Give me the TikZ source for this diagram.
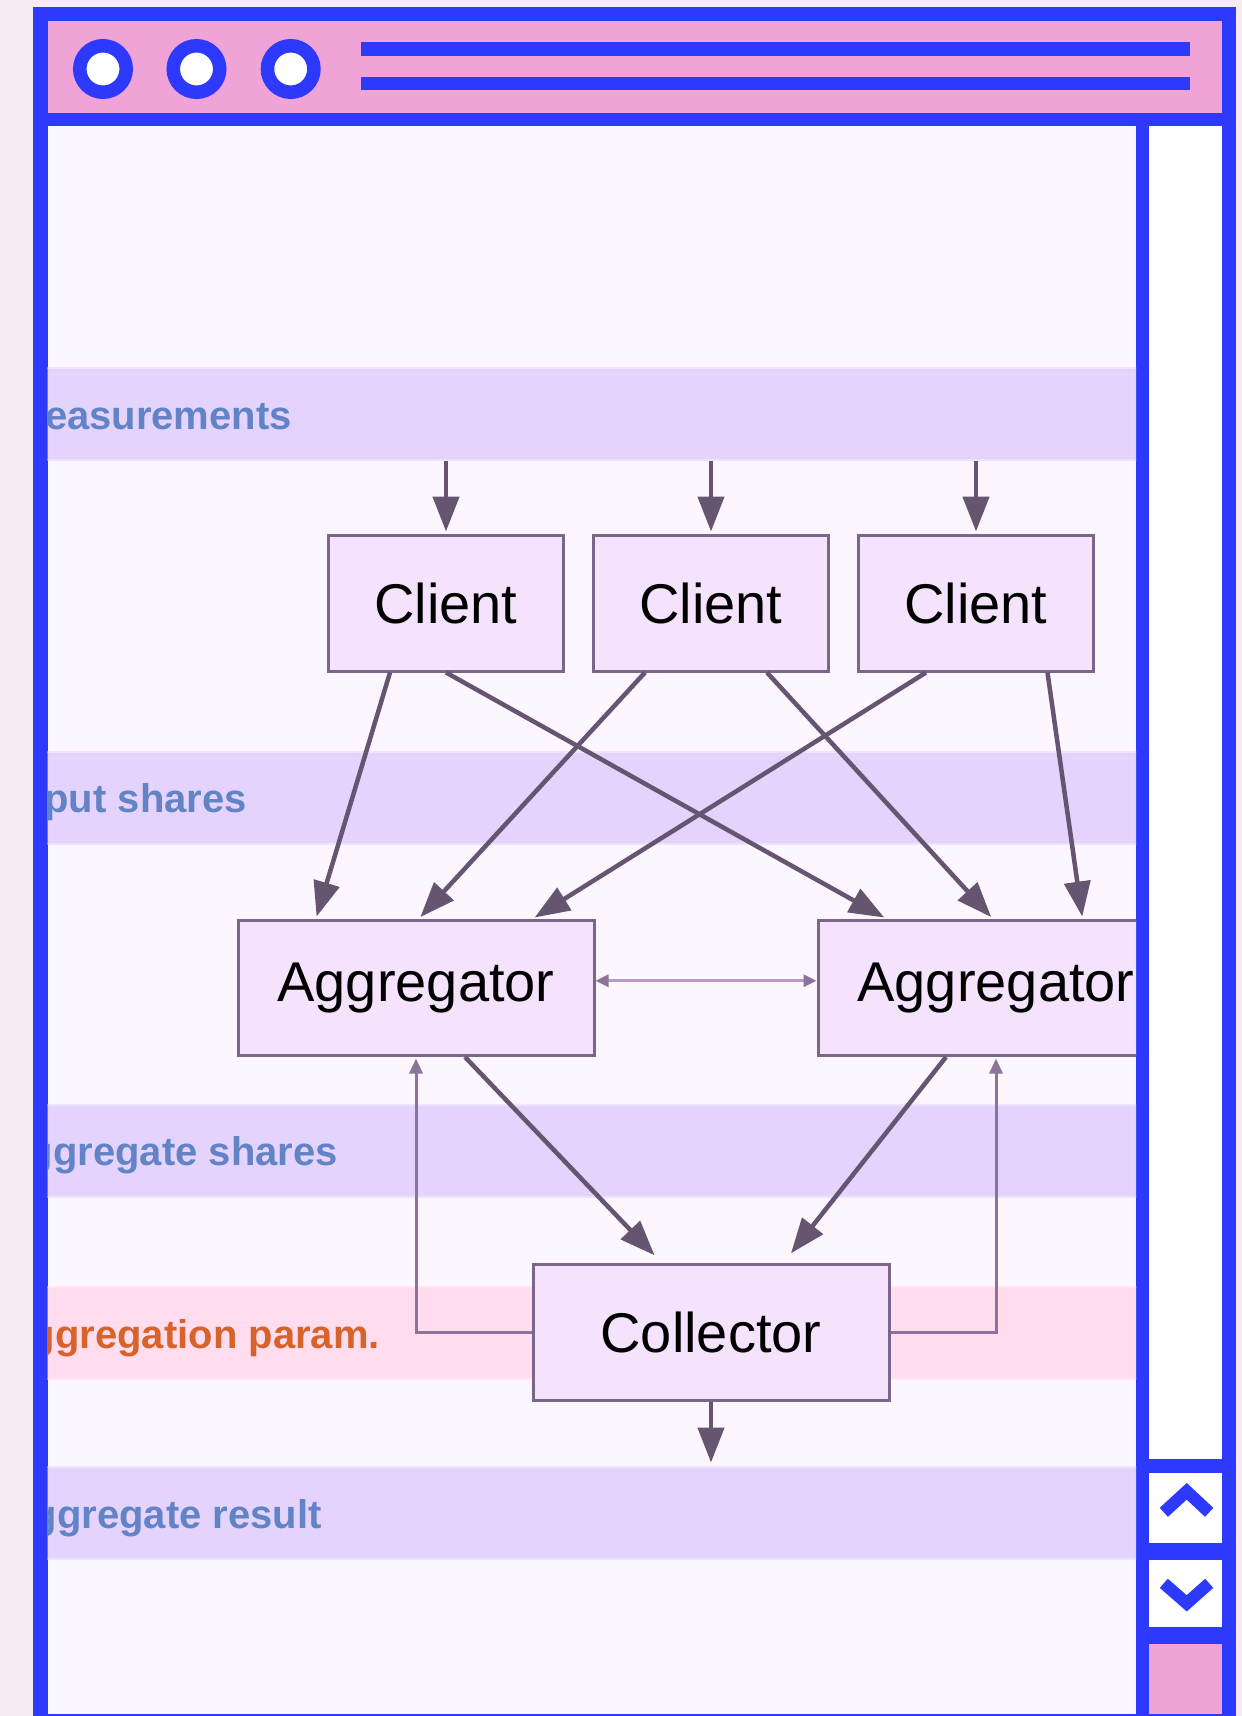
\documentclass[tikz,border=0pt]{standalone}
\usepackage{fontspec}
\setmainfont{Liberation Sans}
\usepackage{xcolor}
\usetikzlibrary{arrows.meta,positioning}
\definecolor{pagebg}{HTML}{F7EAF3}
\definecolor{winblue}{HTML}{2D3AFE}
\definecolor{titlepink}{HTML}{F0A3D6}
\definecolor{paper}{HTML}{FCF6FE}
\definecolor{bandfill}{HTML}{E3D3FD}
\definecolor{bandedge}{HTML}{EEE2FD}
\definecolor{parampink}{HTML}{FFDDEE}
\definecolor{paramedge}{HTML}{FFE6F2}
\definecolor{boxfill}{HTML}{F5E3FE}
\definecolor{boxline}{HTML}{7A6689}
\definecolor{arrowc}{HTML}{665571}
\definecolor{loopc}{HTML}{8B7499}
\definecolor{pairc}{HTML}{B99BCB}
\definecolor{tagblue}{HTML}{6283C6}
\definecolor{tagorange}{HTML}{D8632A}

\begin{document}
\begin{tikzpicture}[x=1pt, y=-1pt, node distance=27pt,
  box/.style={draw=boxline, fill=boxfill, line width=3pt, minimum width=235pt, minimum height=136pt, inner sep=0pt, font=\fontsize{56}{60}\selectfont},
  wide/.style={box, minimum width=356pt, minimum height=135.5pt},
  band/.style={fill=bandfill, draw=bandedge, line width=2pt, minimum width=1100pt, minimum height=92pt, inner sep=0pt, anchor=west},
  tag/.style={anchor=base east, inner sep=0pt, text=tagblue, font=\bfseries\fontsize{40}{44}\selectfont},
  dot/.style={circle, draw=winblue, fill=white, line width=13.5pt, minimum size=46.5pt, inner sep=0pt},
  arr/.style={-{Triangle[length=35pt, width=26pt]}, line width=4.5pt, draw=arrowc},
  back/.style={-{Triangle[length=15pt, width=13pt]}, line width=3pt, draw=loopc},
  pair/.style={{Triangle[length=13pt, width=12pt, color=loopc]}-{Triangle[length=13pt, width=12pt, color=loopc]}, line width=3pt, draw=pairc}]
  \useasboundingbox (0,0) rectangle (1242,1716);
  \fill[pagebg] (0,0) rectangle (1242,1716);
  \fill[winblue] (33,7) rectangle (1236,1716);
  \fill[titlepink] (47.5,21) rectangle (1222,112.7);
  \fill[paper] (47.5,126) rectangle (1136,1713.6);
  \fill[white] (1148.5,126) rectangle (1222,1459);
  \fill[white] (1148.5,1473) rectangle (1222,1543);
  \fill[white] (1148.5,1560) rectangle (1222,1627);
  \fill[titlepink] (1148.5,1644) rectangle (1222,1713.6);
  \foreach \i/\x in {1/103,2/196.5,3/290.7} \node[dot] (dot\i) at (\x,69) {};
  \draw[winblue, line width=13.7pt] (361,49) -- (1190,49) (361,83.5) -- (1190,83.5);
  \draw[winblue, line width=12.2pt] (1163.8,1512.3) -- (1186.7,1491.3) -- (1209.2,1512.3);
  \draw[winblue, line width=12.2pt] (1163.8,1583.3) -- (1186.7,1603.3) -- (1209.2,1583.3);
  \begin{scope}
    \clip (47.5,126) rectangle (1136,1713.6);
    \node[band] (meas) at (40,413.5) {};
    \node[band] (inp) at (40,797.5) {};
    \node[band] (shr) at (40,1151) {};
    \node[band, fill=parampink, draw=paramedge] (par) at (40,1332.5) {};
    \node[band] (res) at (40,1512.5) {};
    \node[tag] (t-meas) at (292,429) {easurements};
    \node[tag] (t-inp) at (247,812) {put shares};
    \node[tag] (t-shr) at (338,1165) {ggregate shares};
    \node[tag, text=tagorange] (t-par) at (380,1348) {ggregation param.};
    \node[tag] (t-res) at (322,1528) {ggregate result};
    \node[box] (c1) at (446,603) {Client};
    \node[box, right=of c1] (c2) {Client};
    \node[box, right=of c2] (c3) {Client};
    \node[wide, below=246pt of c1, xshift=-30pt] (agg1) {Aggregator};
    \node[wide, right=221pt of agg1] (agg2) {Aggregator};
    \node[wide] (coll) at (c2 |- par) {Collector};
    \foreach \c in {c1,c2,c3} \draw[arr, shorten >=2pt] (meas.south -| \c.north) -- (\c.north);
    \foreach \c/\a/\s/\t in {c1/agg1/-56/-100, c1/agg2/0/-110, c2/agg1/-66/3, c2/agg2/56/-3.5, c3/agg1/-50/117, c3/agg2/71.5/86.5}
      \draw[arr, shorten >=2pt] ([xshift=\s pt]\c.south) -- ([xshift=\t pt]\a.north);
    \draw[pair] ([yshift=7pt]agg1.east) -- ([yshift=7pt]agg2.west);
    \draw[arr] ([xshift=49pt]agg1.south) -- ([xshift=-56.5pt, yshift=8pt]coll.north);
    \draw[arr] ([xshift=-50pt]agg2.south) -- ([xshift=80pt, yshift=10pt]coll.north);
    \draw[back, shorten >=1.5pt] (coll.west) -| (agg1.south);
    \draw[back, shorten >=1.5pt] (coll.east) -| (agg2.south);
    \draw[arr, shorten >=3pt] (coll.south) -- (res.north -| coll.south);
  \end{scope}
\end{tikzpicture}
\end{document}
